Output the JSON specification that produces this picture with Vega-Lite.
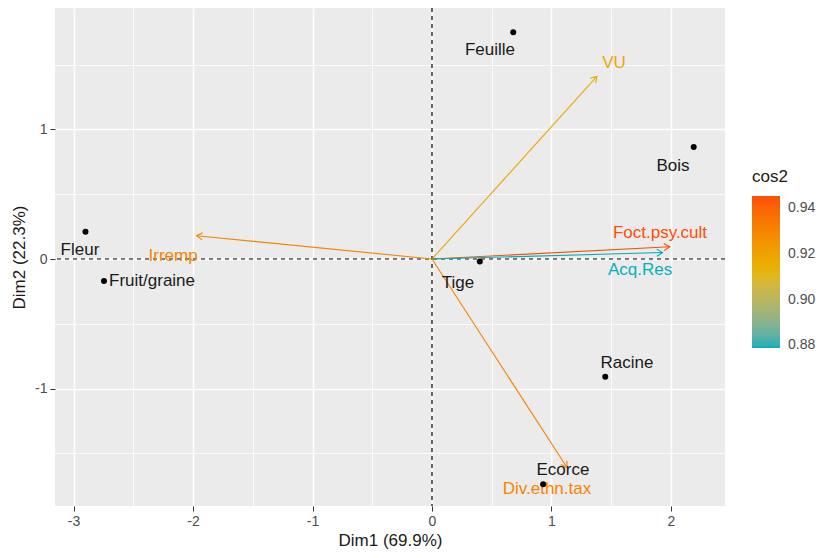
{
  "$schema": "https://vega.github.io/schema/vega-lite/v6.json",
  "autosize": {"type": "none"},
  "width": 670,
  "height": 498,
  "padding": {"left": 55, "top": 8, "right": 95, "bottom": 52},
  "background": "white",
  "config": {
    "font": "Liberation Sans",
    "view": {"fill": "#EBEBEB", "stroke": null},
    "axis": {
      "domain": false,
      "gridColor": "white",
      "tickColor": "#333333",
      "tickSize": 5,
      "labelColor": "#4D4D4D",
      "labelFontSize": 14,
      "labelFont": "Liberation Sans",
      "titleFont": "Liberation Sans",
      "titleFontSize": 17,
      "titleFontWeight": "normal",
      "titleColor": "#1A1A1A",
      "labelPadding": 3
    }
  },
  "datasets": {
    "ind": [
      {"name": "Feuille", "x": 0.68, "y": 1.75, "lx": 0.485, "ly": 1.614},
      {"name": "Bois", "x": 2.19, "y": 0.865, "lx": 2.017, "ly": 0.718},
      {"name": "Fleur", "x": -2.9, "y": 0.21, "lx": -2.946, "ly": 0.07},
      {"name": "Fruit/graine", "x": -2.745, "y": -0.17, "lx": -2.343, "ly": -0.17},
      {"name": "Tige", "x": 0.4, "y": -0.02, "lx": 0.218, "ly": -0.185},
      {"name": "Racine", "x": 1.45, "y": -0.91, "lx": 1.632, "ly": -0.803},
      {"name": "Ecorce", "x": 0.93, "y": -1.74, "lx": 1.096, "ly": -1.629}
    ],
    "var": [
      {"name": "VU", "x": 1.38, "y": 1.41, "lx": 1.523, "ly": 1.514, "cos2": 0.918},
      {"name": "Irremp", "x": -1.97, "y": 0.18, "lx": -2.167, "ly": 0.023, "cos2": 0.93},
      {"name": "Foct.psy.cult", "x": 1.99, "y": 0.095, "lx": 1.908, "ly": 0.2, "cos2": 0.945},
      {"name": "Acq.Res", "x": 1.93, "y": 0.05, "lx": 1.741, "ly": -0.085, "cos2": 0.879},
      {"name": "Div.ethn.tax", "x": 1.13, "y": -1.61, "lx": 0.962, "ly": -1.776, "cos2": 0.93}
    ]
  },
  "layer": [
    {
      "data": {"name": "var"},
      "mark": {"type": "rule", "opacity": 0},
      "encoding": {
        "x": {
          "field": "x", "type": "quantitative",
          "scale": {"domain": [-3.155, 2.452], "nice": false, "zero": false},
          "axis": {
            "title": "Dim1 (69.9%)",
            "values": [-3, -2.5, -2, -1.5, -1, -0.5, 0, 0.5, 1, 1.5, 2],
            "labelExpr": "datum.value % 1 === 0 ? datum.value : ''",
            "tickOpacity": {"condition": {"test": "datum.value % 1 !== 0", "value": 0}, "value": 1},
            "gridWidth": {"condition": {"test": "datum.value % 1 !== 0", "value": 0.8}, "value": 1.6},
            "titlePadding": 4
          }
        },
        "y": {
          "field": "y", "type": "quantitative",
          "scale": {"domain": [-1.907, 1.938], "nice": false, "zero": false},
          "axis": {
            "title": "Dim2 (22.3%)",
            "values": [-1.5, -1, -0.5, 0, 0.5, 1, 1.5],
            "labelExpr": "datum.value % 1 === 0 ? datum.value : ''",
            "tickOpacity": {"condition": {"test": "datum.value % 1 !== 0", "value": 0}, "value": 1},
            "gridWidth": {"condition": {"test": "datum.value % 1 !== 0", "value": 0.8}, "value": 1.6},
            "titlePadding": 6
          }
        }
      }
    },
    {
      "data": {"values": [{"v": 0}]},
      "mark": {"type": "rule", "color": "black", "strokeDash": [4, 4], "strokeWidth": 1.2},
      "encoding": {"x": {"field": "v", "type": "quantitative"}}
    },
    {
      "data": {"values": [{"v": 0}]},
      "mark": {"type": "rule", "color": "black", "strokeDash": [4, 4], "strokeWidth": 1.2},
      "encoding": {"y": {"field": "v", "type": "quantitative"}}
    },
    {
      "data": {"name": "var"},
      "mark": {"type": "rule", "strokeWidth": 1.1},
      "encoding": {
        "x": {"field": "x", "type": "quantitative"},
        "y": {"field": "y", "type": "quantitative"},
        "x2": {"datum": 0},
        "y2": {"datum": 0},
        "stroke": {
          "field": "cos2", "type": "quantitative",
          "scale": {"domain": [0.879, 0.945], "range": ["#00AFBB", "#E7B800", "#FC4E07"], "interpolate": "lab"},
          "legend": null
        }
      }
    },
    {
      "data": {"name": "var"},
      "transform": [
        {"calculate": "(atan2(datum.x * 119.5, datum.y * 129.5) * 180 / PI + 360) % 360", "as": "ang"}
      ],
      "mark": {"type": "point", "shape": "M-0.55,0.9L0,0L0.55,0.9", "filled": false, "strokeWidth": 1.1, "size": 170, "opacity": 1},
      "encoding": {
        "x": {"field": "x", "type": "quantitative"},
        "y": {"field": "y", "type": "quantitative"},
        "angle": {"field": "ang", "type": "quantitative", "scale": null},
        "stroke": {"field": "cos2", "type": "quantitative", "legend": null}
      }
    },
    {
      "data": {"name": "var"},
      "mark": {"type": "text", "fontSize": 17, "font": "Liberation Sans"},
      "encoding": {
        "x": {"field": "lx", "type": "quantitative"},
        "y": {"field": "ly", "type": "quantitative"},
        "text": {"field": "name"},
        "fill": {
          "field": "cos2", "type": "quantitative",
          "scale": {"domain": [0.8789, 0.9451], "range": ["#00AFBB", "#E7B800", "#FC4E07"], "interpolate": "lab"},
          "legend": {
            "type": "gradient",
            "title": "cos2",
            "orient": "none",
            "legendX": 697,
            "legendY": 161,
            "direction": "vertical",
            "gradientLength": 152,
            "gradientThickness": 28,
            "gradientStrokeWidth": 0,
            "values": [0.88, 0.9, 0.92, 0.94],
            "format": ".2f",
            "titleFontSize": 17,
            "titleFontWeight": "normal",
            "titleColor": "#1A1A1A",
            "titlePadding": 10,
            "labelFontSize": 14,
            "labelColor": "#4D4D4D",
            "labelOffset": 8,
            "labelFont": "Liberation Sans",
            "titleFont": "Liberation Sans"
          }
        }
      }
    },
    {
      "data": {"name": "ind"},
      "mark": {"type": "point", "filled": true, "color": "black", "size": 36, "opacity": 1},
      "encoding": {
        "x": {"field": "x", "type": "quantitative"},
        "y": {"field": "y", "type": "quantitative"}
      }
    },
    {
      "data": {"name": "ind"},
      "mark": {"type": "text", "fontSize": 17, "font": "Liberation Sans", "color": "#1A1A1A"},
      "encoding": {
        "x": {"field": "lx", "type": "quantitative"},
        "y": {"field": "ly", "type": "quantitative"},
        "text": {"field": "name"}
      }
    }
  ]
}
